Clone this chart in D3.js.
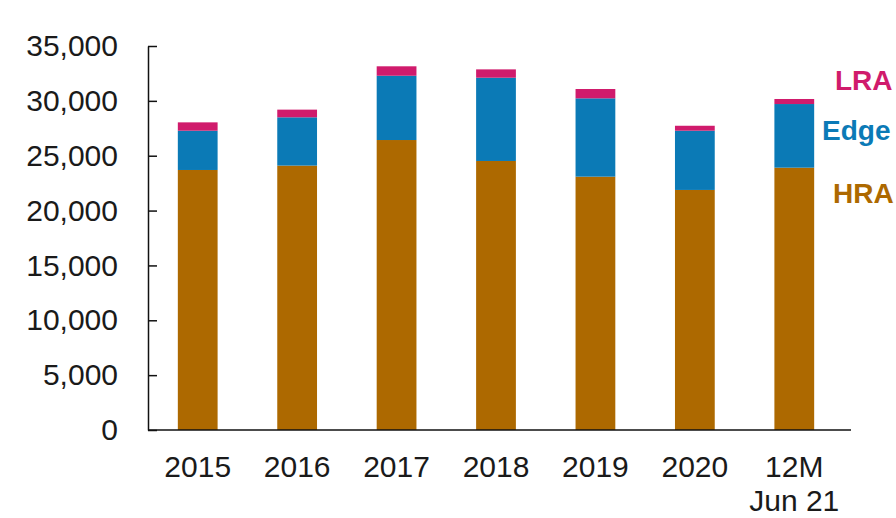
<!DOCTYPE html>
<meta charset="utf-8">
<script src="https://d3js.org/d3.v7.min.js"></script>
<style>
	body {
		margin: 0;
		background: #fff;
	}
	svg {
		display: block;
		font-family: "Liberation Sans", Arial, sans-serif;
	}
	.axis text {
		fill: #1a1a1a;
	}
</style>
<body>
	<div id="chart"></div>
</body>
<script>
	// data
	const years = ["2015", "2016", "2017", "2018", "2019", "2020", "12M\nJun 21"];
	const hra = [23700, 24100, 26430, 24520, 23090, 21880, 23910];
	const edge = [3580, 4400, 5860, 7590, 7140, 5400, 5800];
	const lra = [760, 700, 860, 760, 850, 450, 460];
	const seriesNames = ["HRA", "Edge", "LRA"];
	const yTicks = [0, 5000, 10000, 15000, 20000, 25000, 30000, 35000];

	const width = 896, height = 518;
	const colors = { HRA: "#ad6900", Edge: "#0b7ab6", LRA: "#d01b6c" };

	const svg = d3.select("#chart").append("svg")
		.attr("width", width)
		.attr("height", height);

	const x = d3.scaleBand()
		.domain(years)
		.range([148, 844])
		.paddingInner(0.6)
		.paddingOuter(0.3);

	const y = d3.scaleLinear()
		.domain([0, 35000])
		.range([430, 46]);

	// build a table for the stack
	const table = years.map(function(d, i) {
		return { year: d, HRA: hra[i], Edge: edge[i], LRA: lra[i] };
	});
	const stacked = d3.stack().keys(seriesNames)(table);

	svg.append("g")
		.selectAll("g")
		.data(stacked)
		.enter().append("g")
		.attr("fill", function(d) { return colors[d.key]; })
		.selectAll("rect")
		.data(function(d) { return d; })
		.enter().append("rect")
		.attr("x", function(d) { return x(d.data.year); })
		.attr("width", x.bandwidth())
		.attr("y", function(d) { return y(d[1]); })
		.attr("height", function(d) { return y(d[0]) - y(d[1]); });

	// y axis, ticks pointing into the plot
	const yAxis = svg.append("g")
		.attr("class", "axis")
		.attr("transform", "translate(148,0)")
		.call(d3.axisLeft(y)
			.tickValues(yTicks)
			.tickFormat(d3.format(","))
			.tickSizeInner(-9)
			.tickSizeOuter(0)
			.tickPadding(30));
	yAxis.selectAll("line, path").attr("stroke", "#111").attr("stroke-width", 1.5);
	yAxis.selectAll("text").attr("font-size", 30).attr("font-family", "Liberation Sans, Arial, sans-serif");

	// x axis line
	svg.append("line")
		.attr("x1", 148).attr("x2", 851)
		.attr("y1", y(0)).attr("y2", y(0))
		.attr("stroke", "#111")
		.attr("stroke-width", 1.5);

	// category labels
	const xl = svg.append("g").attr("class", "axis")
		.selectAll("text")
		.data(years)
		.enter().append("text")
		.attr("text-anchor", "middle")
		.attr("font-size", 30)
		.attr("y", 477);
	xl.selectAll("tspan")
		.data(function(d) { return d.split("\n").map(function(s) { return { s: s, c: d }; }); })
		.enter().append("tspan")
		.attr("x", function(t) { return x(t.c) + x.bandwidth() / 2; })
		.attr("dy", function(t, i) { return i === 0 ? 0 : 34; })
		.text(function(t) { return t.s; });

	// series labels at the right
	const labels = [
		{ name: "LRA", x: 835, y: 90 },
		{ name: "Edge", x: 822, y: 140 },
		{ name: "HRA", x: 833, y: 203 }
	];
	svg.append("g")
		.selectAll("text")
		.data(labels)
		.enter().append("text")
		.attr("x", function(d) { return d.x; })
		.attr("y", function(d) { return d.y; })
		.attr("font-size", 28)
		.attr("font-weight", "bold")
		.attr("fill", function(d) { return colors[d.name]; })
		.text(function(d) { return d.name; });
</script>
